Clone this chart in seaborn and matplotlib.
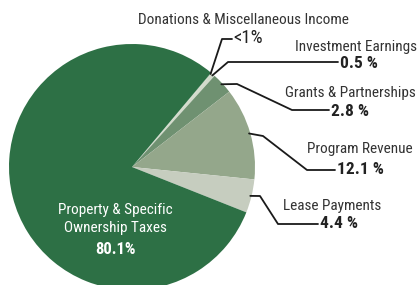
import numpy as np
import matplotlib
matplotlib.use("Agg")
import matplotlib.pyplot as plt
import seaborn as sns
from matplotlib.lines import Line2D

# revenue shares, clockwise from the top-right
categories = ["Donations & Miscellaneous Income", "Investment Earnings",
              "Grants & Partnerships", "Program Revenue", "Lease Payments",
              "Property & Specific\nOwnership Taxes"]
shares = [0.1, 0.5, 2.8, 12.1, 4.4, 80.1]
value_labels = ["<1%", "0.5 %", "2.8 %", "12.1 %", "4.4 %", "80.1%"]
colors = ["#b9c5b2", "#d3dbcc", "#6f9171", "#94a78b", "#c6cdbf", "#2d7045"]

W, H = 418, 285
sns.set_theme(style="white")
plt.rcParams["font.family"] = ["Roboto Condensed", "DejaVu Sans"]

fig = plt.figure(figsize=(W / 100, H / 100), dpi=100)
fig.patch.set_facecolor("white")

# pie centre / radius in pixels
cx, cy, r = 132, 167, 123
ax = fig.add_axes([(cx - r) / W, (H - cy - r) / H, 2 * r / W, 2 * r / H])
start = 50
wedges, _ = ax.pie(shares, colors=colors, startangle=start, counterclock=False,
                   radius=1, wedgeprops=dict(linewidth=0))
ax.set_xlim(-1, 1)
ax.set_ylim(-1, 1)
ax.axis("off")


def fx(px):
    return px / W


def fy(py):
    return (H - py) / H


def edge_point(i, rad=0.99):
    w = wedges[i]
    ang = np.deg2rad((w.theta1 + w.theta2) / 2)
    return cx + rad * r * np.cos(ang), cy - rad * r * np.sin(ang)


def leader(i, pts):
    x0, y0 = edge_point(i)
    xs = [x0] + [p[0] for p in pts]
    ys = [y0] + [p[1] for p in pts]
    fig.add_artist(Line2D([fx(x) for x in xs], [fy(y) for y in ys],
                          transform=fig.transFigure, color="#1a1a1a", lw=1.3))


label_col = "#333333"
val_col = "#222222"
fs = 11
vfs = 12.5

# Donations
leader(0, [(222, 39), (232, 39)])
fig.text(fx(243), fy(20), categories[0], ha="center", va="center", fontsize=fs, color=label_col)
fig.text(fx(233), fy(38), value_labels[0], ha="left", va="center", fontsize=13.5, color=val_col)

# Investment
leader(1, [(228, 62), (338, 62)])
fig.text(fx(295), fy(47), categories[1], ha="left", va="center", fontsize=fs, color=label_col)
fig.text(fx(340), fy(63), value_labels[1], ha="left", va="center", fontsize=vfs, color=val_col, weight="bold")

# Grants
leader(2, [(237, 84), (292, 110), (329, 110)])
fig.text(fx(285), fy(93), categories[2], ha="left", va="center", fontsize=fs, color=label_col)
fig.text(fx(331), fy(111), value_labels[2], ha="left", va="center", fontsize=vfs, color=val_col, weight="bold")

# Program
leader(3, [(263, 136), (307, 170), (335, 170)])
fig.text(fx(307), fy(149), categories[3], ha="left", va="center", fontsize=fs, color=label_col)
fig.text(fx(337), fy(169), value_labels[3], ha="left", va="center", fontsize=vfs, color=val_col, weight="bold")

# Lease
leader(4, [(260, 196), (278, 224), (318, 224)])
fig.text(fx(283), fy(206), categories[4], ha="left", va="center", fontsize=fs, color=label_col)
fig.text(fx(320), fy(223), value_labels[4], ha="left", va="center", fontsize=vfs, color=val_col, weight="bold")

# Property (inside)
fig.text(fx(115), fy(219), categories[5], ha="center", va="center", fontsize=fs,
         color="white", linespacing=1.3)
fig.text(fx(115), fy(250), value_labels[5], ha="center", va="center", fontsize=12,
         color="white", weight="bold")

fig.savefig("out.png", dpi=100)
